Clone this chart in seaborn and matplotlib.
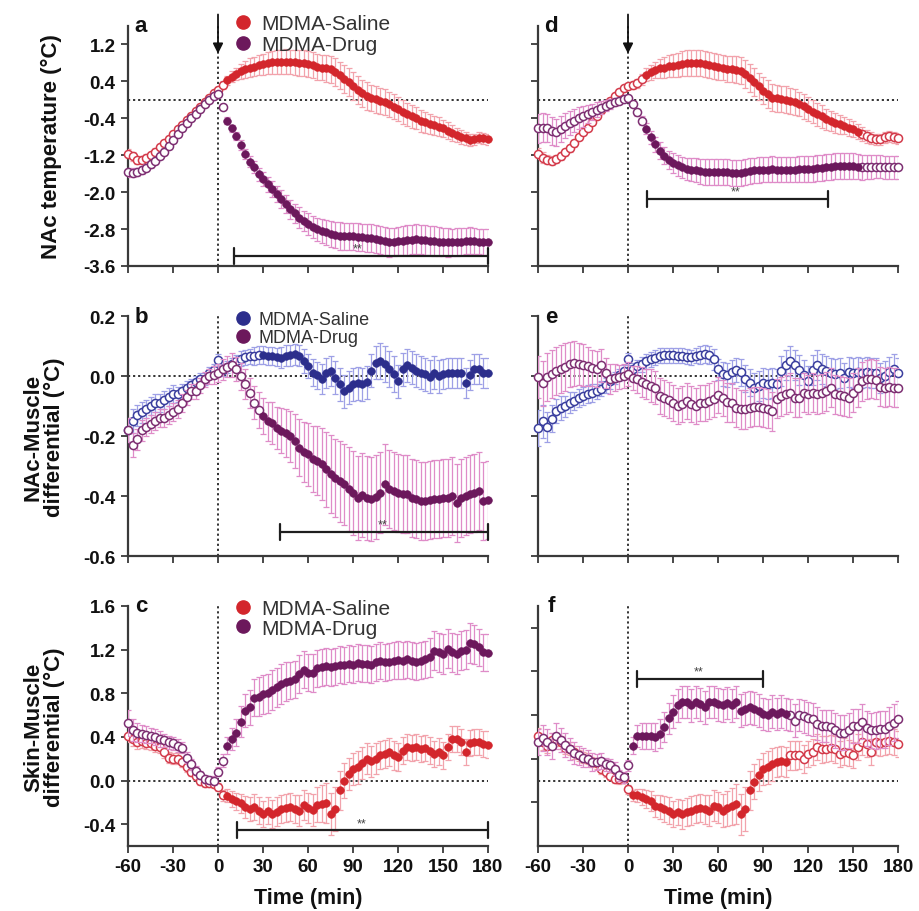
import numpy as np
import pandas as pd
import matplotlib
matplotlib.use("Agg")
import matplotlib.pyplot as plt
import seaborn as sns
from matplotlib.lines import Line2D

# ---------------- data (time in min, every 3 min) ----------------
TIME = list(range(-60, 181, 3))
XTICKS = [-60, -30, 0, 30, 60, 90, 120, 150, 180]
LABELS = ["MDMA-Saline", "MDMA-Drug"]

# panel a : NAc temperature
A_SAL = [-1.17,-1.22,-1.30,-1.30,-1.26,-1.20,-1.12,-1.03,-0.94,-0.84,
         -0.74,-0.64,-0.54,-0.44,-0.34,-0.25,-0.15,-0.05,0.05,0.14,
         0.22,0.32,0.42,0.50,0.56,0.62,0.66,0.70,0.72,0.75,
         0.77,0.79,0.81,0.82,0.83,0.83,0.82,0.81,0.80,0.79,
         0.77,0.75,0.72,0.70,0.68,0.66,0.60,0.53,0.45,0.38,
         0.30,0.22,0.14,0.08,0.04,0.01,-0.02,-0.05,-0.10,-0.15,
         -0.20,-0.26,-0.31,-0.36,-0.40,-0.45,-0.49,-0.52,-0.55,-0.58,
         -0.62,-0.67,-0.72,-0.76,-0.80,-0.83,-0.86,-0.85,-0.82,-0.83,
         -0.85]
A_SAL_ERR = [0.10,0.10,0.09,0.09,0.08,0.08,0.07,0.07,0.07,0.06,
             0.06,0.06,0.06,0.05,0.05,0.05,0.05,0.05,0.05,0.06,
             0.06,0.08,0.10,0.12,0.14,0.16,0.18,0.20,0.21,0.22,
             0.23,0.24,0.25,0.26,0.26,0.27,0.27,0.28,0.28,0.28,
             0.28,0.28,0.28,0.28,0.29,0.29,0.30,0.30,0.30,0.30,
             0.30,0.30,0.30,0.30,0.29,0.29,0.28,0.28,0.27,0.27,
             0.26,0.26,0.25,0.25,0.24,0.24,0.23,0.22,0.21,0.20,
             0.19,0.18,0.17,0.16,0.15,0.14,0.13,0.12,0.12,0.12,
             0.12]
A_DRUG = [-1.57,-1.58,-1.56,-1.52,-1.47,-1.40,-1.32,-1.22,-1.12,-1.01,
          -0.86,-0.74,-0.62,-0.51,-0.40,-0.30,-0.19,-0.09,0.00,0.08,
          0.13,-0.16,-0.45,-0.62,-0.79,-0.98,-1.17,-1.34,-1.46,-1.61,
          -1.72,-1.83,-1.93,-2.04,-2.15,-2.26,-2.37,-2.46,-2.55,-2.62,
          -2.69,-2.75,-2.80,-2.84,-2.87,-2.90,-2.93,-2.95,-2.96,-2.96,
          -2.96,-2.97,-2.98,-2.99,-3.00,-3.01,-3.03,-3.06,-3.09,-3.08,
          -3.06,-3.05,-3.04,-3.03,-3.02,-3.03,-3.04,-3.05,-3.06,-3.07,
          -3.08,-3.09,-3.09,-3.08,-3.07,-3.06,-3.05,-3.06,-3.07,-3.08,
          -3.08]
A_DRUG_ERR = [0.10,0.10,0.09,0.09,0.08,0.08,0.07,0.07,0.07,0.06,
              0.06,0.06,0.06,0.05,0.05,0.05,0.05,0.05,0.05,0.05,
              0.05,0.06,0.07,0.08,0.09,0.10,0.11,0.12,0.13,0.14,
              0.15,0.16,0.17,0.18,0.19,0.20,0.21,0.21,0.22,0.22,
              0.23,0.24,0.25,0.26,0.27,0.28,0.29,0.30,0.30,0.30,
              0.30,0.30,0.30,0.30,0.30,0.30,0.30,0.31,0.31,0.31,
              0.31,0.31,0.32,0.32,0.32,0.32,0.32,0.32,0.32,0.32,
              0.31,0.31,0.30,0.30,0.30,0.29,0.29,0.28,0.28,0.28,
              0.28]

# panel d : NAc temperature (second condition)
D_SAL = [-1.17,-1.25,-1.30,-1.32,-1.28,-1.21,-1.14,-1.05,-0.94,-0.81,
         -0.70,-0.60,-0.47,-0.34,-0.23,-0.13,-0.02,0.09,0.18,0.25,
         0.29,0.32,0.36,0.45,0.54,0.60,0.65,0.68,0.70,0.73,
         0.74,0.75,0.78,0.79,0.80,0.80,0.79,0.78,0.75,0.74,
         0.72,0.70,0.67,0.66,0.65,0.63,0.56,0.47,0.38,0.29,
         0.20,0.13,0.05,0.03,0.02,0.00,-0.02,-0.05,-0.09,-0.14,
         -0.20,-0.26,-0.31,-0.36,-0.42,-0.46,-0.50,-0.53,-0.56,-0.60,
         -0.63,-0.69,-0.74,-0.79,-0.83,-0.85,-0.85,-0.81,-0.79,-0.81,
         -0.83]
D_SAL_ERR = [0.12,0.11,0.10,0.10,0.09,0.09,0.08,0.08,0.08,0.07,
             0.07,0.07,0.07,0.06,0.06,0.06,0.06,0.06,0.06,0.06,
             0.06,0.08,0.10,0.12,0.14,0.16,0.18,0.20,0.22,0.24,
             0.25,0.26,0.27,0.28,0.28,0.28,0.28,0.28,0.28,0.28,
             0.28,0.28,0.28,0.28,0.29,0.29,0.30,0.30,0.30,0.30,
             0.30,0.30,0.30,0.30,0.29,0.29,0.28,0.28,0.27,0.27,
             0.26,0.25,0.25,0.24,0.23,0.22,0.21,0.20,0.19,0.18,
             0.17,0.16,0.15,0.14,0.13,0.12,0.12,0.12,0.12,0.12,
             0.12]
D_DRUG = [-0.62,-0.60,-0.61,-0.67,-0.70,-0.63,-0.56,-0.50,-0.45,-0.40,
          -0.36,-0.31,-0.26,-0.21,-0.17,-0.13,-0.09,-0.05,-0.02,0.02,
          0.04,-0.09,-0.27,-0.45,-0.63,-0.81,-0.96,-1.10,-1.21,-1.30,
          -1.37,-1.42,-1.46,-1.49,-1.51,-1.53,-1.55,-1.56,-1.57,-1.57,
          -1.57,-1.57,-1.57,-1.58,-1.59,-1.58,-1.57,-1.55,-1.53,-1.52,
          -1.51,-1.51,-1.50,-1.51,-1.51,-1.51,-1.51,-1.51,-1.50,-1.50,
          -1.50,-1.49,-1.48,-1.47,-1.46,-1.45,-1.44,-1.44,-1.43,-1.44,
          -1.44,-1.45,-1.46,-1.45,-1.45,-1.45,-1.45,-1.46,-1.46,-1.46,
          -1.46]
D_DRUG_ERR = [0.32,0.32,0.31,0.30,0.29,0.28,0.27,0.26,0.25,0.24,
              0.22,0.20,0.18,0.16,0.14,0.12,0.10,0.08,0.06,0.05,
              0.04,0.06,0.08,0.10,0.12,0.14,0.16,0.18,0.19,0.20,
              0.21,0.22,0.23,0.24,0.25,0.26,0.27,0.28,0.28,0.28,
              0.28,0.28,0.28,0.28,0.28,0.28,0.28,0.28,0.28,0.28,
              0.28,0.28,0.28,0.28,0.28,0.28,0.28,0.28,0.28,0.28,
              0.28,0.28,0.28,0.28,0.28,0.28,0.28,0.28,0.28,0.28,
              0.28,0.27,0.27,0.26,0.26,0.25,0.25,0.25,0.25,0.25,
              0.25]

# panel b : NAc-Muscle differential
B_SAL = [-0.18,-0.15,-0.13,-0.12,-0.11,-0.10,-0.09,-0.09,-0.08,-0.07,
         -0.06,-0.06,-0.05,-0.04,-0.03,-0.02,-0.01,-0.01,0.01,0.02,
         0.055,0.02,0.03,0.04,0.05,0.058,0.062,0.066,0.068,0.07,
         0.069,0.067,0.067,0.064,0.061,0.067,0.07,0.072,0.067,0.05,
         0.033,0.011,0.002,-0.011,0.011,0.017,-0.006,-0.028,-0.05,-0.039,
         -0.028,-0.024,-0.028,-0.02,0.017,0.044,0.05,0.039,0.022,0.006,
         -0.017,0.022,0.036,0.028,0.017,0.011,0.006,-0.002,0.011,0.0,
         0.006,0.009,0.011,0.009,0.011,-0.022,0.002,0.022,0.022,0.011,
         0.011]
B_SAL_ERR = [0.04,0.04,0.035,0.035,0.03,0.03,0.03,0.03,0.03,0.03,
             0.03,0.025,0.025,0.025,0.02,0.02,0.02,0.02,0.02,0.02,
             0.02,0.02,0.02,0.02,0.02,0.025,0.025,0.025,0.03,0.03,
             0.03,0.03,0.03,0.03,0.035,0.035,0.035,0.035,0.035,0.04,
             0.04,0.045,0.045,0.05,0.05,0.05,0.055,0.055,0.055,0.055,
             0.055,0.055,0.055,0.055,0.055,0.055,0.06,0.06,0.06,0.06,
             0.055,0.055,0.055,0.055,0.055,0.055,0.055,0.055,0.055,0.055,
             0.05,0.05,0.05,0.05,0.05,0.05,0.05,0.05,0.05,0.05,
             0.05]
B_DRUG = [-0.18,-0.23,-0.21,-0.18,-0.17,-0.16,-0.15,-0.14,-0.14,-0.13,
          -0.12,-0.11,-0.09,-0.07,-0.05,-0.05,-0.03,-0.01,0.0,0.005,
          0.011,0.022,0.031,0.036,0.022,0.0,-0.028,-0.056,-0.089,-0.113,
          -0.133,-0.15,-0.155,-0.172,-0.183,-0.19,-0.2,-0.217,-0.239,-0.253,
          -0.261,-0.278,-0.283,-0.294,-0.311,-0.328,-0.339,-0.35,-0.361,-0.378,
          -0.389,-0.406,-0.398,-0.406,-0.411,-0.402,-0.389,-0.361,-0.378,-0.383,
          -0.389,-0.394,-0.394,-0.406,-0.411,-0.417,-0.417,-0.413,-0.411,-0.409,
          -0.406,-0.406,-0.4,-0.422,-0.408,-0.4,-0.394,-0.389,-0.383,-0.417,
          -0.413]
B_DRUG_ERR = [0.04,0.04,0.035,0.035,0.03,0.03,0.03,0.03,0.03,0.03,
              0.03,0.03,0.03,0.025,0.025,0.025,0.025,0.025,0.025,0.03,
              0.03,0.035,0.035,0.04,0.04,0.045,0.05,0.05,0.055,0.06,
              0.06,0.065,0.07,0.07,0.075,0.08,0.085,0.09,0.095,0.1,
              0.105,0.11,0.115,0.12,0.125,0.13,0.13,0.135,0.135,0.14,
              0.14,0.14,0.14,0.14,0.14,0.14,0.135,0.135,0.13,0.13,
              0.13,0.13,0.13,0.13,0.13,0.13,0.13,0.13,0.13,0.13,
              0.13,0.13,0.13,0.13,0.13,0.13,0.13,0.13,0.13,0.13,
              0.13]

# panel e : NAc-Muscle differential (second condition)
E_SAL = [-0.172,-0.15,-0.169,-0.142,-0.117,-0.106,-0.1,-0.089,-0.083,-0.072,
         -0.067,-0.061,-0.056,-0.05,-0.042,-0.031,-0.017,-0.006,0.002,0.017,
         0.056,0.022,0.033,0.039,0.05,0.056,0.061,0.067,0.069,0.069,
         0.069,0.067,0.067,0.064,0.063,0.067,0.069,0.072,0.069,0.056,
         0.022,0.006,0.002,0.013,0.02,0.013,-0.009,-0.022,-0.039,-0.033,
         -0.024,-0.028,-0.024,-0.028,0.017,0.036,0.05,0.036,0.02,0.002,
         -0.017,0.02,0.036,0.024,0.017,0.011,0.006,0.011,-0.006,0.013,
         0.011,0.013,0.011,0.013,0.009,0.011,-0.006,0.0,0.013,0.022,
         0.011]
E_SAL_ERR = [0.06,0.055,0.05,0.045,0.04,0.04,0.035,0.035,0.03,0.03,
             0.03,0.03,0.03,0.025,0.025,0.025,0.025,0.02,0.02,0.02,
             0.02,0.02,0.02,0.025,0.025,0.025,0.025,0.025,0.025,0.025,
             0.025,0.025,0.025,0.025,0.025,0.025,0.03,0.03,0.03,0.035,
             0.035,0.04,0.04,0.04,0.04,0.045,0.045,0.045,0.05,0.05,
             0.05,0.05,0.05,0.05,0.05,0.05,0.05,0.05,0.05,0.05,
             0.05,0.05,0.05,0.05,0.05,0.05,0.05,0.05,0.05,0.05,
             0.05,0.05,0.05,0.05,0.05,0.05,0.05,0.05,0.05,0.05,
             0.05]
E_DRUG = [-0.002,-0.024,-0.002,0.006,0.017,0.022,0.031,0.039,0.042,0.039,
          0.036,0.033,0.028,0.022,0.036,0.011,-0.009,-0.006,-0.002,0.0,
          0.006,-0.006,-0.011,-0.02,-0.028,-0.033,-0.039,-0.067,-0.072,-0.08,
          -0.089,-0.1,-0.094,-0.083,-0.094,-0.1,-0.091,-0.089,-0.083,-0.078,
          -0.064,-0.072,-0.087,-0.089,-0.106,-0.111,-0.111,-0.106,-0.102,-0.102,
          -0.106,-0.109,-0.117,-0.076,-0.067,-0.061,-0.056,-0.072,-0.072,-0.056,
          -0.061,-0.056,-0.061,-0.058,-0.05,-0.039,-0.061,-0.064,-0.067,-0.072,
          -0.056,-0.039,-0.017,-0.011,-0.009,-0.013,-0.036,-0.039,-0.036,-0.039,
          -0.039]
E_DRUG_ERR = [0.07,0.075,0.08,0.08,0.08,0.08,0.08,0.075,0.075,0.07,
              0.07,0.065,0.06,0.06,0.055,0.05,0.05,0.045,0.04,0.04,
              0.04,0.04,0.045,0.05,0.05,0.055,0.055,0.06,0.06,0.06,
              0.06,0.06,0.06,0.06,0.06,0.06,0.06,0.06,0.06,0.06,
              0.06,0.06,0.065,0.065,0.065,0.065,0.065,0.065,0.065,0.065,
              0.065,0.065,0.065,0.065,0.065,0.065,0.065,0.065,0.065,0.065,
              0.065,0.065,0.065,0.065,0.065,0.065,0.065,0.065,0.065,0.065,
              0.065,0.065,0.065,0.065,0.065,0.065,0.065,0.065,0.065,0.065,
              0.065]

# panel c : Skin-Muscle differential
C_SAL = [0.41,0.38,0.35,0.36,0.345,0.34,0.32,0.305,0.26,0.21,
         0.20,0.20,0.17,0.12,0.08,0.046,0.0,-0.02,-0.02,-0.03,
         -0.06,-0.137,-0.14,-0.168,-0.19,-0.21,-0.24,-0.26,-0.245,-0.275,
         -0.305,-0.275,-0.305,-0.285,-0.26,-0.253,-0.245,-0.26,-0.275,-0.223,
         -0.253,-0.27,-0.223,-0.214,-0.205,-0.305,-0.26,-0.09,0.0,0.06,
         0.107,0.122,0.16,0.20,0.175,0.20,0.235,0.245,0.26,0.23,
         0.214,0.275,0.305,0.296,0.305,0.29,0.296,0.275,0.245,0.266,
         0.23,0.305,0.38,0.38,0.35,0.26,0.345,0.35,0.357,0.336,
         0.33]
C_SAL_ERR = [0.06,0.06,0.06,0.06,0.06,0.06,0.06,0.05,0.05,0.05,
             0.05,0.05,0.05,0.04,0.04,0.04,0.04,0.04,0.04,0.04,
             0.04,0.05,0.06,0.07,0.08,0.09,0.10,0.11,0.12,0.12,
             0.12,0.12,0.13,0.13,0.13,0.13,0.13,0.13,0.14,0.14,
             0.14,0.15,0.16,0.17,0.18,0.19,0.20,0.18,0.16,0.15,
             0.15,0.15,0.15,0.14,0.14,0.14,0.13,0.13,0.13,0.13,
             0.13,0.12,0.12,0.12,0.12,0.12,0.12,0.12,0.12,0.12,
             0.12,0.12,0.12,0.12,0.12,0.12,0.12,0.12,0.12,0.12,
             0.12]
C_DRUG = [0.53,0.46,0.44,0.43,0.42,0.41,0.40,0.38,0.37,0.35,
          0.34,0.32,0.30,0.21,0.15,0.09,0.05,0.015,0.006,0.0,
          0.08,0.18,0.32,0.38,0.44,0.54,0.64,0.67,0.76,0.77,
          0.79,0.80,0.83,0.855,0.885,0.905,0.916,0.93,0.977,1.017,
          0.99,0.986,1.03,1.04,1.047,1.04,1.047,1.06,1.055,1.07,
          1.06,1.08,1.07,1.07,1.06,1.085,1.10,1.085,1.09,1.10,
          1.105,1.10,1.11,1.10,1.09,1.10,1.11,1.13,1.19,1.175,
          1.16,1.21,1.175,1.16,1.19,1.20,1.26,1.25,1.22,1.175,
          1.17]
C_DRUG_ERR = [0.12,0.10,0.09,0.08,0.08,0.07,0.07,0.07,0.06,0.06,
              0.06,0.06,0.05,0.05,0.05,0.04,0.04,0.04,0.04,0.04,
              0.04,0.06,0.08,0.10,0.12,0.14,0.15,0.16,0.17,0.18,
              0.18,0.18,0.18,0.18,0.18,0.18,0.17,0.17,0.17,0.17,
              0.17,0.17,0.17,0.17,0.17,0.17,0.17,0.17,0.17,0.17,
              0.17,0.17,0.17,0.17,0.17,0.17,0.17,0.17,0.17,0.17,
              0.17,0.17,0.17,0.17,0.17,0.17,0.17,0.18,0.18,0.18,
              0.18,0.18,0.18,0.18,0.18,0.18,0.18,0.18,0.17,0.17,
              0.17]

# panel f : Skin-Muscle differential (second condition)
F_SAL = [0.41,0.35,0.32,0.37,0.38,0.35,0.30,0.29,0.26,0.23,
         0.21,0.20,0.17,0.16,0.11,0.08,0.046,0.015,0.01,0.015,
         -0.08,-0.137,-0.137,-0.15,-0.17,-0.19,-0.23,-0.245,-0.26,-0.275,
         -0.305,-0.29,-0.31,-0.29,-0.275,-0.26,-0.253,-0.265,-0.275,-0.23,
         -0.245,-0.275,-0.253,-0.235,-0.214,-0.31,-0.26,-0.09,-0.01,0.05,
         0.107,0.12,0.15,0.17,0.18,0.17,0.23,0.23,0.235,0.20,
         0.245,0.26,0.305,0.285,0.29,0.296,0.285,0.245,0.266,0.253,
         0.235,0.305,0.35,0.336,0.26,0.35,0.345,0.357,0.366,0.35,
         0.336]
F_SAL_ERR = [0.07,0.07,0.07,0.07,0.06,0.06,0.06,0.06,0.06,0.05,
             0.05,0.05,0.05,0.05,0.05,0.05,0.04,0.04,0.04,0.04,
             0.04,0.05,0.06,0.07,0.08,0.09,0.10,0.11,0.12,0.12,
             0.12,0.12,0.13,0.13,0.13,0.13,0.13,0.13,0.14,0.14,
             0.14,0.15,0.16,0.17,0.18,0.19,0.20,0.18,0.16,0.15,
             0.15,0.15,0.15,0.14,0.14,0.14,0.13,0.13,0.13,0.13,
             0.12,0.12,0.12,0.12,0.12,0.12,0.12,0.12,0.12,0.12,
             0.12,0.12,0.12,0.12,0.12,0.12,0.12,0.12,0.12,0.12,
             0.12]
F_DRUG = [0.35,0.39,0.35,0.32,0.41,0.37,0.33,0.29,0.25,0.23,
          0.21,0.20,0.17,0.17,0.18,0.15,0.14,0.11,0.05,0.03,
          0.14,0.32,0.41,0.41,0.41,0.41,0.40,0.43,0.49,0.57,
          0.63,0.69,0.72,0.72,0.69,0.72,0.70,0.67,0.72,0.72,
          0.70,0.69,0.71,0.69,0.72,0.64,0.66,0.67,0.66,0.64,
          0.61,0.60,0.63,0.61,0.63,0.61,0.60,0.55,0.60,0.59,
          0.57,0.56,0.52,0.50,0.50,0.49,0.46,0.44,0.44,0.46,
          0.50,0.50,0.54,0.48,0.46,0.46,0.47,0.47,0.50,0.53,
          0.56]
F_DRUG_ERR = [0.12,0.12,0.12,0.12,0.12,0.11,0.11,0.10,0.10,0.09,
              0.09,0.08,0.08,0.07,0.07,0.06,0.06,0.06,0.05,0.05,
              0.05,0.08,0.10,0.12,0.12,0.12,0.13,0.13,0.14,0.14,
              0.15,0.15,0.15,0.15,0.15,0.15,0.15,0.15,0.15,0.15,
              0.15,0.15,0.15,0.15,0.15,0.15,0.15,0.15,0.15,0.15,
              0.15,0.15,0.15,0.15,0.15,0.15,0.15,0.15,0.15,0.15,
              0.15,0.15,0.15,0.15,0.15,0.16,0.16,0.16,0.16,0.16,
              0.16,0.16,0.16,0.16,0.16,0.17,0.17,0.17,0.17,0.17,
              0.17]

# ---------------- styling ----------------
sns.set_theme(style="ticks")
plt.rcParams['font.family'] = ['Liberation Sans', 'DejaVu Sans']

RED, RED_OPEN, RED_ERR = "#d3262c", "#d33a4a", "#f2a3ac"
PUR, PUR_OPEN, PUR_ERR = "#6c185c", "#7d2f72", "#df8cc8"
BLU, BLU_OPEN, BLU_ERR = "#2c2e8c", "#3a3e9e", "#9ea0e6"
SPINE = "#3a3a3a"

W, H = 919, 912
fig = plt.figure(figsize=(W / 100, H / 100), dpi=100)


def ax_at(left_px, top_px, w_px=360, h_px=240):
    return fig.add_axes([left_px / W, 1 - (top_px + h_px) / H, w_px / W, h_px / H])


panels = [
    dict(letter="a", left=128, top=27, ylim=(-3.6, 1.6),
         yticks=[-3.6, -2.8, -2.0, -1.2, -0.4, 0.4, 1.2], ylabels=True, xlabels=False,
         ylabel="NAc temperature (\u00b0C)", ylab_x=-0.182,
         series=[(A_SAL, A_SAL_ERR, RED, RED_OPEN, RED_ERR, (6, 180)),
                 (A_DRUG, A_DRUG_ERR, PUR, PUR_OPEN, PUR_ERR, (6, 180))],
         arrow=True, legend=(RED, PUR, 0.297, 1.05, 15, 0.1),
         sig=(10.5, 180, -3.38, 0.17, 93, -3.22)),
    dict(letter="d", left=538, top=27, ylim=(-3.6, 1.6),
         yticks=[-3.6, -2.8, -2.0, -1.2, -0.4, 0.4, 1.2], ylabels=False, xlabels=False,
         series=[(D_SAL, D_SAL_ERR, RED, RED_OPEN, RED_ERR, (12, 153)),
                 (D_DRUG, D_DRUG_ERR, PUR, PUR_OPEN, PUR_ERR, (12, 153))],
         arrow=True, legend=None,
         sig=(12.5, 133, -2.15, 0.17, 72, -1.99)),
    dict(letter="b", left=128, top=317, ylim=(-0.6, 0.2),
         yticks=[-0.6, -0.4, -0.2, 0.0, 0.2], ylabels=True, xlabels=False,
         ylabel="NAc-Muscle\ndifferential (\u00b0C)", ylab_x=-0.175,
         series=[(B_SAL, B_SAL_ERR, BLU, BLU_OPEN, BLU_ERR, (30, 180)),
                 (B_DRUG, B_DRUG_ERR, PUR, PUR_OPEN, PUR_ERR, (30, 180))],
         arrow=False, legend=(BLU, PUR, 0.299, 1.02, 13, 0.05),
         sig=(41, 180, -0.52, 0.027, 110, -0.495)),
    dict(letter="e", left=538, top=317, ylim=(-0.6, 0.2),
         yticks=[-0.6, -0.4, -0.2, 0.0, 0.2], ylabels=False, xlabels=False,
         series=[(E_SAL, E_SAL_ERR, BLU, BLU_OPEN, BLU_ERR, None),
                 (E_DRUG, E_DRUG_ERR, PUR, PUR_OPEN, PUR_ERR, None)],
         arrow=False, legend=None, sig=None),
    dict(letter="c", left=128, top=607, ylim=(-0.6, 1.6),
         yticks=[-0.4, 0.0, 0.4, 0.8, 1.2, 1.6], ylabels=True, xlabels=True,
         ylabel="Skin-Muscle\ndifferential (\u00b0C)", ylab_x=-0.175,
         series=[(C_SAL, C_SAL_ERR, RED, RED_OPEN, RED_ERR, (6, 180)),
                 (C_DRUG, C_DRUG_ERR, PUR, PUR_OPEN, PUR_ERR, (6, 180))],
         arrow=False, legend=(RED, PUR, 0.297, 1.03, 15, 0.04),
         sig=(12.5, 180, -0.45, 0.073, 96, -0.39)),
    dict(letter="f", left=538, top=607, ylim=(-0.6, 1.6),
         yticks=[-0.2, 0.2, 0.6, 1.0, 1.4], ylabels=False, xlabels=True,
         series=[(F_SAL, F_SAL_ERR, RED, RED_OPEN, RED_ERR, (3, 105)),
                 (F_DRUG, F_DRUG_ERR, PUR, PUR_OPEN, PUR_ERR, (3, 105))],
         arrow=False, legend=None,
         sig=(6, 90, 0.93, 0.073, 47, 1.0)),
]

for p in panels:
    ax = ax_at(p["left"], p["top"])
    ax.set_xlim(-60, 180)
    ax.set_ylim(*p["ylim"])

    # reference lines
    ax.axvline(0, color="#222222", lw=1.3, ls=(0, (1.2, 1.6)), zorder=1)
    ax.axhline(0, color="#222222", lw=1.3, ls=(0, (1.2, 1.6)), zorder=1)

    for k, (vals, errs, col, ocol, ecol, win) in enumerate(p["series"]):
        z = 3 + 2 * k
        df = pd.DataFrame({"t": TIME, "v": vals, "e": errs})
        ax.errorbar(df["t"], df["v"], yerr=df["e"], fmt="none", ecolor=ecol,
                    elinewidth=0.9, capsize=2.2, capthick=0.9, zorder=z)
        if win is None:
            mask = np.zeros(len(df), dtype=bool)
        else:
            mask = ((df["t"] >= win[0]) & (df["t"] <= win[1])).to_numpy()
        if (~mask).any():
            sns.scatterplot(data=df[~mask], x="t", y="v", ax=ax, color="white",
                            edgecolor=ocol, linewidth=1.1, s=34, zorder=z + 1,
                            legend=False, clip_on=False)
        if mask.any():
            sns.scatterplot(data=df[mask], x="t", y="v", ax=ax, color=col,
                            edgecolor=col, linewidth=0.5, s=30, zorder=z + 1,
                            legend=False, clip_on=False)

    # significance bar
    if p["sig"] is not None:
        x0, x1, y, h, tx, ty = p["sig"]
        ax.plot([x0, x1], [y, y], color="#1e1e1e", lw=1.6, zorder=10, clip_on=False)
        ax.plot([x0, x0], [y - h, y + h], color="#1e1e1e", lw=1.6, zorder=10, clip_on=False)
        ax.plot([x1, x1], [y - h, y + h], color="#1e1e1e", lw=1.6, zorder=10, clip_on=False)
        ax.text(tx, ty, "**", fontsize=9, color="#444444", ha="center", va="center", zorder=11)

    # injection arrow
    if p["arrow"]:
        ax.annotate("", xy=(0, 1.0), xytext=(0, 1.85), annotation_clip=False,
                    arrowprops=dict(arrowstyle="-|>", color="#111111", lw=1.3,
                                    mutation_scale=15, shrinkA=0, shrinkB=0))

    # legend
    if p["legend"] is not None:
        c1, c2, lx, ly, fs, sp = p["legend"]
        handles = [Line2D([], [], marker="o", ls="", color=c1, markersize=9.5),
                   Line2D([], [], marker="o", ls="", color=c2, markersize=9.5)]
        leg = ax.legend(handles, LABELS, loc="upper left", bbox_to_anchor=(lx, ly),
                        frameon=False, fontsize=fs, handletextpad=0.45,
                        labelspacing=sp, borderaxespad=0, borderpad=0,
                        handlelength=0.8)
        for t in leg.get_texts():
            t.set_color("#333333")

    # panel letter
    ax.text(0.036, 1.0, p["letter"], transform=ax.transAxes, fontsize=16,
            fontweight="bold", ha="center", va="center", color="#111111")

    # axes styling
    sns.despine(ax=ax)
    for s in ("left", "bottom"):
        ax.spines[s].set_linewidth(1.6)
        ax.spines[s].set_color(SPINE)
    ax.set_xticks(XTICKS)
    ax.set_yticks(p["yticks"])
    ax.tick_params(direction="out", length=5, width=1.3, color=SPINE,
                   labelsize=13.5, labelcolor="#111111", pad=4)
    ax.set_xlabel("")
    ax.set_ylabel("")
    if p["ylabels"]:
        ax.set_yticklabels([f"{v:.1f}" for v in p["yticks"]], fontweight="bold")
        ax.set_ylabel(p["ylabel"], fontsize=16, fontweight="bold", color="#111111",
                      linespacing=1.0)
        ax.yaxis.set_label_coords(p["ylab_x"], 0.5)
    else:
        ax.set_yticklabels([])
    if p["xlabels"]:
        ax.set_xticklabels([str(v) for v in XTICKS], fontweight="bold")
        ax.set_xlabel("Time (min)", fontsize=15.5, fontweight="bold", color="#111111")
        ax.xaxis.set_label_coords(0.5, -0.172)
    else:
        ax.set_xticklabels([])
    ax.set_facecolor("white")

fig.savefig("out.png", dpi=100, facecolor="white")
